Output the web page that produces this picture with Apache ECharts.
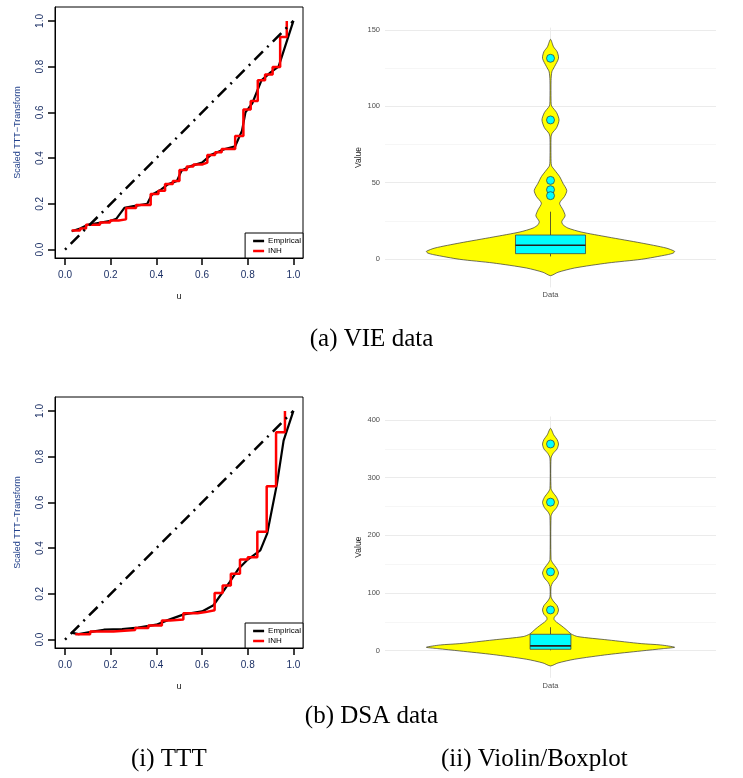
<!DOCTYPE html>
<html>
<head>
<meta charset="utf-8">
<script src="https://cdn.jsdelivr.net/npm/echarts@6/dist/echarts.min.js"></script>
<style>
html,body{margin:0;padding:0;background:#fff;}
#chart{width:743px;height:778px;}
</style>
</head>
<body>
<div id="chart"></div>
<script>
// ---------- data ----------
const tttTicks = [0, 0.2, 0.4, 0.6, 0.8, 1.0];
const refU = [0, 1];
const refT = [0, 1];

// (a) VIE data - TTT
const vieEmpU = [0.029, 0.066, 0.10, 0.15, 0.20, 0.225, 0.26, 0.30, 0.36, 0.38, 0.42, 0.45, 0.49, 0.51, 0.55, 0.60, 0.64, 0.70, 0.745, 0.775, 0.79, 0.82, 0.86, 0.90, 0.935, 1.0];
const vieEmpT = [0.080, 0.092, 0.108, 0.117, 0.126, 0.135, 0.182, 0.190, 0.200, 0.240, 0.262, 0.285, 0.300, 0.345, 0.365, 0.380, 0.415, 0.440, 0.452, 0.520, 0.600, 0.640, 0.740, 0.775, 0.800, 1.0];
const vieInhU = [0.029, 0.066, 0.092, 0.153, 0.197, 0.235, 0.267, 0.311, 0.375, 0.409, 0.438, 0.472, 0.501, 0.533, 0.562, 0.600, 0.623, 0.657, 0.686, 0.745, 0.781, 0.813, 0.844, 0.876, 0.909, 0.942, 0.971];
const vieInhT = [0.083, 0.092, 0.108, 0.118, 0.127, 0.132, 0.182, 0.195, 0.243, 0.257, 0.287, 0.300, 0.348, 0.363, 0.372, 0.380, 0.414, 0.426, 0.440, 0.497, 0.613, 0.650, 0.741, 0.766, 0.799, 0.930, 1.0];

// (b) DSA data - TTT
const dsaEmpU = [0.026, 0.06, 0.12, 0.17, 0.25, 0.32, 0.40, 0.45, 0.52, 0.60, 0.65, 0.72, 0.76, 0.80, 0.855, 0.885, 0.928, 0.957, 1.0];
const dsaEmpT = [0.030, 0.024, 0.035, 0.043, 0.046, 0.052, 0.065, 0.085, 0.110, 0.123, 0.150, 0.250, 0.310, 0.350, 0.390, 0.463, 0.681, 0.870, 1.0];
const dsaInhU = [0.045, 0.11, 0.212, 0.307, 0.365, 0.424, 0.46, 0.518, 0.58, 0.615, 0.655, 0.69, 0.726, 0.766, 0.80, 0.842, 0.883, 0.924, 0.963];
const dsaInhT = [0.023, 0.035, 0.042, 0.051, 0.061, 0.083, 0.088, 0.115, 0.120, 0.128, 0.204, 0.236, 0.288, 0.350, 0.360, 0.471, 0.671, 0.907, 1.0];

// Violin / boxplot
const categories = ['Data'];
const vieValueTicks = [0, 50, 100, 150];
const vieMinorTicks = [25, 75, 125];
const dsaValueTicks = [0, 100, 200, 300, 400];
const dsaMinorTicks = [50, 150, 250, 350];

const vieViolinValue = [-10.9, -8.7, -5.9, -2.6, -0.2, 2.8, 3.9, 5.0, 7.2, 10.5, 14.4, 17.7, 20.3, 22.5, 24.6, 28.3, 32.3, 36.6, 41.0, 44.9, 49.7, 54.0, 58.4, 61.0, 64, 80, 82.4, 86, 91.1, 96, 100.3, 104, 117, 122.7, 126, 131.5, 135.8, 139, 143.9];
const vieViolinHalfW = [0, 0.027, 0.087, 0.208, 0.329, 0.423, 0.445, 0.45, 0.419, 0.329, 0.208, 0.111, 0.063, 0.045, 0.041, 0.053, 0.045, 0.033, 0.051, 0.059, 0.045, 0.033, 0.0145, 0.004, 0.002, 0.002, 0.006, 0.022, 0.031, 0.022, 0.004, 0.002, 0.002, 0.005, 0.0145, 0.029, 0.024, 0.011, 0];
const vieBox = [1.7, 3.5, 9.0, 15.7, 31];
const vieOutliers = [131.5, 91.1, 51.5, 45.4, 41.5];

const dsaViolinValue = [-26.6, -21.5, -15, -6.9, -0.6, 3.5, 5.8, 9.8, 12.1, 18.5, 24.3, 28.9, 36.4, 43.4, 49.7, 54, 58, 63, 70.5, 78, 86, 93, 111, 118, 126, 134.7, 143, 152, 158, 233, 240, 248, 257, 266, 275, 281, 334, 342, 350, 358.4, 366, 374, 385.5];
const dsaViolinHalfW = [0, 0.027, 0.087, 0.208, 0.329, 0.41, 0.45, 0.399, 0.329, 0.208, 0.099, 0.075, 0.057, 0.039, 0.021, 0.013, 0.014, 0.024, 0.029, 0.024, 0.01, 0.002, 0.002, 0.008, 0.022, 0.029, 0.022, 0.008, 0.002, 0.002, 0.008, 0.022, 0.029, 0.022, 0.008, 0.002, 0.002, 0.0097, 0.024, 0.029, 0.024, 0.012, 0];
const dsaBox = [0.5, 2.3, 8.1, 28.3, 40.5];
const dsaOutliers = [358.4, 257.5, 136.6, 70.5];

// ---------- helpers ----------
const zip = (a, b) => a.map((v, i) => [v, b[i]]);
const navy = '#1d3166';
const sans = 'Liberation Sans';

function tttX(grid) {
  return {
    gridIndex: grid, type: 'value', min: -0.044, max: 1.042,
    axisLine: {show: true, onZero: false, lineStyle: {color: '#000', width: 1}},
    axisTick: {show: true, customValues: tttTicks, length: 7, lineStyle: {color: '#000', width: 1.5}},
    axisLabel: {customValues: tttTicks, formatter: v => v.toFixed(1), fontSize: 10, color: navy, fontFamily: sans, margin: 12},
    splitLine: {show: false},
    name: 'u', nameLocation: 'middle', nameGap: 34,
    nameTextStyle: {fontSize: 9, color: '#111', fontFamily: sans}
  };
}
function tttY(grid) {
  return {
    gridIndex: grid, type: 'value', min: -0.037, max: 1.061,
    axisLine: {show: true, onZero: false, lineStyle: {color: '#000', width: 1}},
    axisTick: {show: true, customValues: tttTicks, length: 7, lineStyle: {color: '#000', width: 1.5}},
    axisLabel: {customValues: tttTicks, formatter: v => v.toFixed(1), fontSize: 10, color: navy, fontFamily: sans, rotate: 90, margin: 10},
    splitLine: {show: false},
    name: 'Scaled TTT\u2212Transform', nameLocation: 'middle', nameGap: 33,
    nameTextStyle: {fontSize: 9, color: '#23428c', fontFamily: sans}
  };
}
function violinX(grid) {
  return {
    gridIndex: grid, type: 'value', min: 0.4, max: 1.6,
    axisLine: {show: false, onZero: false},
    axisTick: {show: false, customValues: [1]},
    axisLabel: {customValues: [1], formatter: () => categories[0], fontSize: 7.5, color: '#4d4d4d', fontFamily: sans, margin: 4},
    splitLine: {show: true, lineStyle: {color: '#ebebeb', width: 1}}
  };
}
function violinY(grid, min, max, ticks) {
  return {
    gridIndex: grid, type: 'value', min: min, max: max,
    axisLine: {show: false, onZero: false},
    axisTick: {show: false, customValues: ticks},
    axisLabel: {customValues: ticks, fontSize: 7.5, color: '#4d4d4d', fontFamily: sans, margin: 5},
    splitLine: {show: true, lineStyle: {color: '#ebebeb', width: 1}},
    name: 'Value', nameLocation: 'middle', nameGap: 21,
    nameTextStyle: {fontSize: 8.5, color: '#222', fontFamily: sans}
  };
}
function violinYMinor(grid, min, max, ticks) {
  return {
    gridIndex: grid, type: 'value', min: min, max: max, position: 'left',
    axisLine: {show: false, onZero: false},
    axisTick: {show: false, customValues: ticks},
    axisLabel: {show: false, customValues: ticks},
    splitLine: {show: true, lineStyle: {color: '#f4f4f4', width: 0.8}}
  };
}
function tttSeries(xi, empU, empT, inhU, inhT) {
  return [
    {type: 'line', name: 'Empirical', xAxisIndex: xi, yAxisIndex: xi, data: zip(empU, empT),
     showSymbol: false, symbol: 'none', lineStyle: {color: '#000', width: 2.2}, itemStyle: {color: '#000'}, z: 2},
    {type: 'line', name: 'INH', xAxisIndex: xi, yAxisIndex: xi, data: zip(inhU, inhT), step: 'end',
     showSymbol: false, symbol: 'none', lineStyle: {color: '#ff0000', width: 2.5}, itemStyle: {color: '#ff0000'}, z: 3},
    {type: 'line', name: 'ref', xAxisIndex: xi, yAxisIndex: xi, data: zip(refU, refT),
     showSymbol: false, symbol: 'none', lineStyle: {color: '#000', width: 2.5, type: [2, 6, 12, 6], cap: 'butt'}, z: 4}
  ];
}
function violinSeries(xi, yi, vals, halfW, box, outliers, boxHalf) {
  return [
    {type: 'custom', xAxisIndex: xi, yAxisIndex: yi, data: zip(halfW, vals), z: 2,
     renderItem: function (params, api) {
       if (params.dataIndex !== 0) return;
       const pts = [];
       for (let i = 0; i < vals.length; i++) pts.push(api.coord([1 + halfW[i], vals[i]]));
       for (let i = vals.length - 2; i > 0; i--) pts.push(api.coord([1 - halfW[i], vals[i]]));
       return {type: 'polygon', shape: {points: pts, smooth: 0.25},
               style: {fill: '#ffff00', stroke: '#333', lineWidth: 0.7}};
     }},
    {type: 'custom', xAxisIndex: xi, yAxisIndex: yi, data: [[1].concat(box)], z: 3,
     renderItem: function (params, api) {
       const x = api.value(0);
       const mn = api.value(1), q1 = api.value(2), md = api.value(3), q3 = api.value(4), mx = api.value(5);
       const a = api.coord([x - boxHalf, q3]);
       const b = api.coord([x + boxHalf, q1]);
       const c0 = api.coord([x, mn]), c1 = api.coord([x, q1]), c3 = api.coord([x, q3]), c4 = api.coord([x, mx]);
       const m0 = api.coord([x - boxHalf, md]), m1 = api.coord([x + boxHalf, md]);
       return {type: 'group', children: [
         {type: 'line', shape: {x1: c3[0], y1: c3[1], x2: c4[0], y2: c4[1]}, style: {stroke: '#333', lineWidth: 0.8}},
         {type: 'line', shape: {x1: c0[0], y1: c0[1], x2: c1[0], y2: c1[1]}, style: {stroke: '#333', lineWidth: 0.8}},
         {type: 'rect', shape: {x: a[0], y: a[1], width: b[0] - a[0], height: b[1] - a[1]},
          style: {fill: '#00ffff', stroke: '#444', lineWidth: 0.8}},
         {type: 'line', shape: {x1: m0[0], y1: m0[1], x2: m1[0], y2: m1[1]}, style: {stroke: '#222', lineWidth: 1.6}}
       ]};
     }},
    {type: 'scatter', xAxisIndex: xi, yAxisIndex: yi, data: outliers.map(v => [1, v]), z: 4,
     symbol: 'circle', symbolSize: 8, itemStyle: {color: '#00ffff', borderColor: '#333', borderWidth: 0.7, opacity: 1}}
  ];
}
function legendAt(bottom) {
  return {
    data: ['Empirical', 'INH'], orient: 'vertical', right: 440, bottom: bottom,
    icon: 'rect', itemWidth: 11, itemHeight: 2.5, itemGap: 2,
    padding: [4, 2, 3, 8], borderColor: '#000', borderWidth: 1, borderRadius: 0,
    backgroundColor: '#fff', selectedMode: false,
    textStyle: {fontSize: 8, color: '#000', fontFamily: sans, padding: [0, 0, 0, -1]}
  };
}
const capStyle = {fontFamily: 'Liberation Serif', fontSize: 25, fontWeight: 'normal', color: '#000'};

const option = {
  animation: false,
  backgroundColor: '#fff',
  title: [
    {text: '(a) VIE data', left: 'center', top: 327, padding: 0, textStyle: capStyle},
    {text: '(b) DSA data', left: 'center', top: 704, padding: 0, textStyle: capStyle},
    {text: '(i) TTT', left: 131, top: 747, padding: 0, textStyle: capStyle},
    {text: '(ii) Violin/Boxplot', left: 441, top: 747, padding: 0, textStyle: capStyle}
  ],
  legend: [legendAt(520), legendAt(130)],
  grid: [
    {left: 55, top: 7, width: 248, height: 251, show: true, borderColor: '#000', borderWidth: 1},
    {left: 55, top: 397, width: 248, height: 251, show: true, borderColor: '#000', borderWidth: 1},
    {left: 385, top: 27.6, width: 331, height: 259.8},
    {left: 385, top: 416.5, width: 331, height: 261.3}
  ],
  xAxis: [tttX(0), tttX(1), violinX(2), violinX(3)],
  yAxis: [
    tttY(0), tttY(1),
    violinY(2, -18.6, 151.6, vieValueTicks),
    violinY(3, -47.2, 406.1, dsaValueTicks),
    violinYMinor(2, -18.6, 151.6, vieMinorTicks),
    violinYMinor(3, -47.2, 406.1, dsaMinorTicks)
  ],
  series: [].concat(
    tttSeries(0, vieEmpU, vieEmpT, vieInhU, vieInhT),
    tttSeries(1, dsaEmpU, dsaEmpT, dsaInhU, dsaInhT),
    violinSeries(2, 2, vieViolinValue, vieViolinHalfW, vieBox, vieOutliers, 0.127),
    violinSeries(3, 3, dsaViolinValue, dsaViolinHalfW, dsaBox, dsaOutliers, 0.074)
  )
};
option.yAxis[4].z = 0; option.yAxis[5].z = 0;

const chart = echarts.init(document.getElementById('chart'), null, {renderer: 'canvas'});
chart.setOption(option);
</script>
</body>
</html>
